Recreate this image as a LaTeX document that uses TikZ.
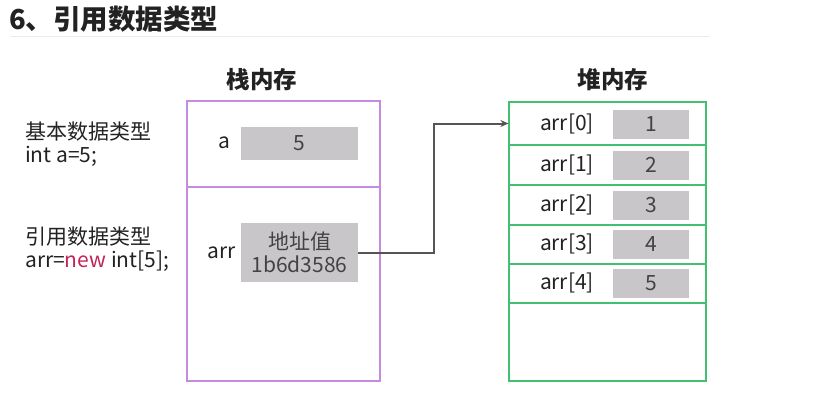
\documentclass[tikz,border=0pt]{standalone}
\usepackage{fontspec}
\setmainfont{Noto Sans CJK SC}
\usetikzlibrary{arrows.meta}
\definecolor{stackc}{HTML}{C58BE0}
\definecolor{heapc}{HTML}{40C070}
\definecolor{cellc}{HTML}{C8C6C9}
\definecolor{txt}{HTML}{222222}
\definecolor{newc}{HTML}{C0245A}
\definecolor{arrc}{HTML}{555555}
\tikzset{
  stackbox/.style={draw=stackc, line width=1.2pt, minimum width=193pt, inner sep=0pt},
  heaprow/.style={draw=heapc, line width=1.2pt, minimum width=197pt, inner sep=0pt},
  cell/.style={fill=cellc, inner sep=0pt, text=txt!85, font=\fontsize{21}{24}\selectfont},
  lbl/.style={text=txt, inner sep=0pt, font=\fontsize{21}{24}\selectfont},
  head/.style={text=txt, inner sep=0pt, font=\fontsize{23.5}{27}\selectfont\bfseries},
}
\begin{document}
\begin{tikzpicture}[x=1pt,y=-1pt]
\useasboundingbox (0,0) rectangle (825,410);
% title
\node[anchor=west, inner sep=0pt, text=txt, font=\fontsize{27.5}{30}\selectfont\bfseries] (title) at (9,19) {6、引用数据类型};
\draw[black!8, line width=1pt] (10,36) -- (710,36);
% headings
\node[head] (sh) at (262,80) {栈内存};
\node[head] (hh) at (613,80) {堆内存};
% left texts
\node[lbl, anchor=north west, align=left, font=\fontsize{21}{22.5}\selectfont] (t1) at (25,122) {基本数据类型\\int a=5;};
\node[lbl, anchor=north west, align=left, font=\fontsize{21}{22.5}\selectfont] (t2) at (25,227) {引用数据类型\\arr=\textcolor{newc}{new} int[5];};
% stack
\node[stackbox, minimum height=86pt] (sa) at (283.5,144) {};
\node[stackbox, minimum height=194pt] (sb) at (283.5,284) {};
\node[lbl] (la) at (224,143) {a};
\node[cell, minimum width=117pt, minimum height=33pt] (va) at (299.5,143.5) {5};
\node[lbl] (larr) at (222,253) {arr};
\node[cell, minimum width=117pt, minimum height=59pt, align=center, font=\fontsize{21}{23}\selectfont] (addr) at (299.5,252.5) {地址值\\1b6d3586};
% heap
\node[heaprow, minimum height=43pt] (h0) at (607.5,123.5) {};
\node[heaprow, minimum height=40pt] (h1) at (607.5,165) {};
\node[heaprow, minimum height=40pt] (h2) at (607.5,205) {};
\node[heaprow, minimum height=39pt] (h3) at (607.5,244.5) {};
\node[heaprow, minimum height=39pt] (h4) at (607.5,283.5) {};
\node[heaprow, minimum height=78pt] (h5) at (607.5,342) {};
\foreach \i/\y in {0/124,1/165,2/205,3/244,4/283}{
  \node[lbl] (l\i) at (567,\y) {arr[\i]};
  \pgfmathtruncatemacro{\v}{\i+1}
  \node[cell, minimum width=76pt, minimum height=29pt] (c\i) at (651,\y) {\v};
}
% arrow
\draw[arrc, line width=2pt, -{Stealth[length=8pt,width=7pt]}] (addr.east) -- ++(76,0) |- (h0.west);
\end{tikzpicture}
\end{document}
